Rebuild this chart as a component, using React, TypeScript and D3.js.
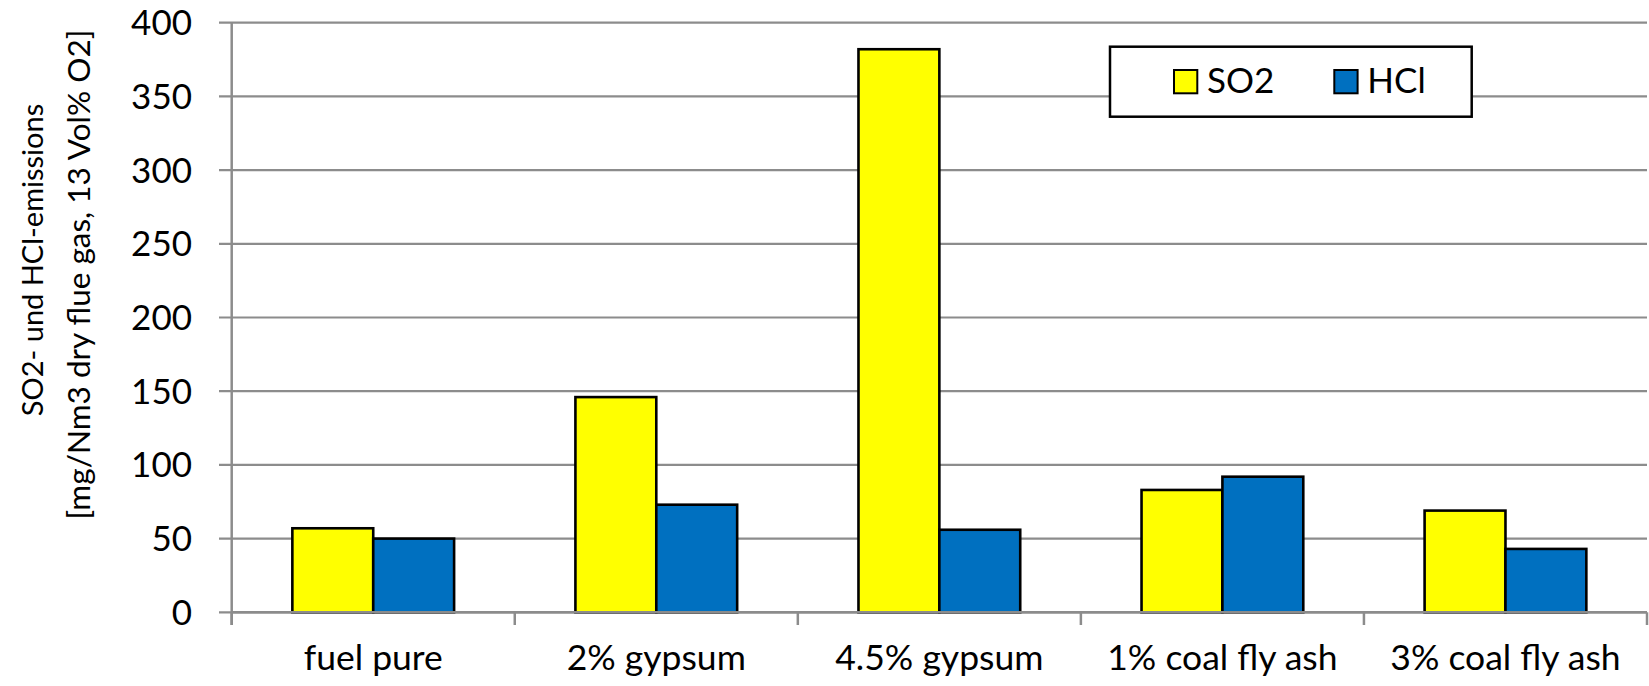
import React from "react";
import * as d3 from "d3";

// Emission measurements per fuel mixture
const categories: string[] = [
  "fuel pure",
  "2% gypsum",
  "4.5% gypsum",
  "1% coal fly ash",
  "3% coal fly ash",
];
const so2Values: number[] = [57, 146, 382, 83, 69];
const hclValues: number[] = [50, 73, 56, 92, 43];
const seriesNames: string[] = ["SO2", "HCl"];
const yTicks: number[] = [0, 50, 100, 150, 200, 250, 300, 350, 400];
const yTitleLines: string[] = [
  "SO2- und HCl-emissions",
  "[mg/Nm3 dry flue gas, 13 Vol% O2]",
];

const W = 1649;
const H = 686;
const FONT = "Lato, 'Open Sans', sans-serif";
const GRID = "#8c8c8c";
const COLORS: Record<string, string> = { SO2: "#FFFF00", HCl: "#0070C0" };

export default function App() {
  const left = 231.7;
  const right = 1647;
  const top = 22.7;
  const bottom = 612.3;

  const x = d3.scaleBand<string>().domain(categories).range([left, right]).padding(0);
  const xs = d3
    .scaleBand<string>()
    .domain(seriesNames)
    .range([0, x.bandwidth()])
    .paddingInner(0)
    .paddingOuter(0.75);
  const y = d3.scaleLinear().domain([0, 400]).range([bottom, top]);

  const rows = categories.map((c, i) => ({
    cat: c,
    vals: [
      { s: "SO2", v: so2Values[i] },
      { s: "HCl", v: hclValues[i] },
    ],
  }));

  const boundaries = [...categories.map((c) => x(c) as number), right];

  return (
    <div style={{ position: "fixed", left: 0, top: 0 }}>
      <svg width={W} height={H} style={{ display: "block", background: "#fff" }}>
        {/* horizontal gridlines with outside tick stubs */}
        {yTicks.map((t) => (
          <line
            key={"g" + t}
            x1={left - 12.7}
            x2={right}
            y1={y(t)}
            y2={y(t)}
            stroke={GRID}
            strokeWidth={2.2}
          />
        ))}
        {/* y axis line */}
        <line x1={left} x2={left} y1={top} y2={bottom + 12.7} stroke={GRID} strokeWidth={2.5} />
        {/* category boundary ticks */}
        {boundaries.map((bx, i) => (
          <line
            key={"xt" + i}
            x1={bx}
            x2={bx}
            y1={bottom}
            y2={bottom + 12.7}
            stroke={GRID}
            strokeWidth={2.5}
          />
        ))}
        {/* y tick labels */}
        {yTicks.map((t) => (
          <text
            key={"yl" + t}
            x={192}
            y={y(t) + 12.5}
            textAnchor="end"
            fontFamily={FONT}
            fontSize={35}
            fill="#000"
          >
            {t}
          </text>
        ))}
        {/* bars */}
        {rows.map((r) =>
          r.vals.map((d) => (
            <rect
              key={r.cat + d.s}
              x={(x(r.cat) as number) + (xs(d.s) as number)}
              y={y(d.v)}
              width={xs.bandwidth()}
              height={y(0) - y(d.v)}
              fill={COLORS[d.s]}
              stroke="#000"
              strokeWidth={2.6}
            />
          ))
        )}
        {/* x axis baseline */}
        <line x1={left} x2={right} y1={bottom} y2={bottom} stroke={GRID} strokeWidth={2.5} />
        {/* category labels */}
        {categories.map((c) => (
          <text
            key={"xl" + c}
            x={(x(c) as number) + x.bandwidth() / 2}
            y={670}
            textAnchor="middle"
            fontFamily={FONT}
            fontSize={35.5}
            fill="#000"
          >
            {c}
          </text>
        ))}
        {/* y axis title */}
        <text
          transform={`translate(43,260) rotate(-90)`}
          textAnchor="middle"
          fontFamily={FONT}
          fontSize={29}
          fill="#000"
        >
          {yTitleLines[0]}
        </text>
        <text
          transform={`translate(90,274.5) rotate(-90)`}
          textAnchor="middle"
          fontFamily={FONT}
          fontSize={31.5}
          fill="#000"
        >
          {yTitleLines[1]}
        </text>
        {/* legend */}
        <g>
          <rect x={1110} y={46.7} width={361.7} height={70} fill="#fff" stroke="#000" strokeWidth={2.5} />
          {seriesNames.map((s, i) => {
            const sx = i === 0 ? 1174 : 1334.3;
            return (
              <g key={"lg" + s}>
                <rect x={sx} y={70} width={23.3} height={23.3} fill={COLORS[s]} stroke="#000" strokeWidth={2} />
                <text x={sx + 33} y={93} fontFamily={FONT} fontSize={35} fill="#000">
                  {s}
                </text>
              </g>
            );
          })}
        </g>
      </svg>
    </div>
  );
}
